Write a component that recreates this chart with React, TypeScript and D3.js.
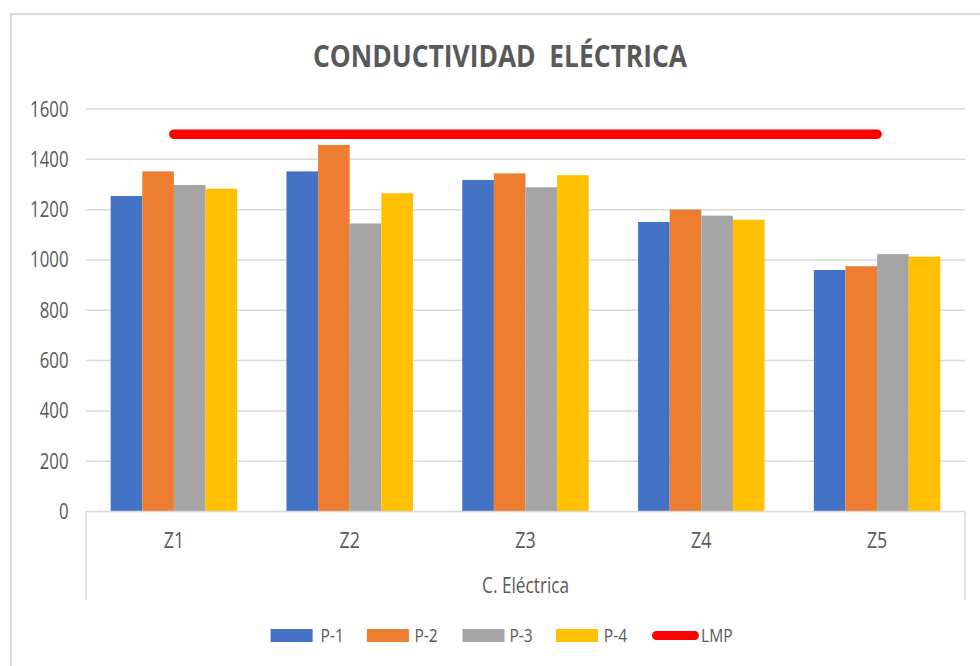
import React from "react";
import * as d3 from "d3";

const categories = ["Z1", "Z2", "Z3", "Z4", "Z5"];
const seriesNames = ["P-1", "P-2", "P-3", "P-4"];
const p1Values = [1254, 1352, 1318, 1151, 960];
const p2Values = [1352, 1457, 1344, 1200, 975];
const p3Values = [1298, 1145, 1289, 1176, 1023];
const p4Values = [1283, 1265, 1337, 1160, 1013];
const lmpValues = [1500, 1500, 1500, 1500, 1500];
const yTicks = [0, 200, 400, 600, 800, 1000, 1200, 1400, 1600];
const seriesColors = ["#4472C4", "#ED7D31", "#A5A5A5", "#FFC000"];
const lmpColor = "#FF0000";
const title = "CONDUCTIVIDAD  ELÉCTRICA";
const axisTitle = "C. Eléctrica";
const lmpName = "LMP";

const seriesValues = [p1Values, p2Values, p3Values, p4Values];

const FONT = "'Open Sans', 'Noto Sans', sans-serif";
const TXT = "#595959";

function T(props: {
  x: number;
  y: number;
  anchor?: string;
  size: number;
  sx?: number;
  weight?: string | number;
  children: React.ReactNode;
  textLength?: number;
}) {
  const { x, y, anchor = "start", size, sx = 0.8, weight = "normal", children, textLength } = props;
  return (
    <g transform={`translate(${x},${y}) scale(${sx},1)`}>
      <text
        x={0}
        y={0}
        textAnchor={anchor}
        fontFamily={FONT}
        fontSize={size}
        fontWeight={weight}
        fill={TXT}
        style={{ whiteSpace: "pre" }}
        textLength={textLength}
        lengthAdjust={textLength ? "spacingAndGlyphs" : undefined}
      >
        {children}
      </text>
    </g>
  );
}

export default function App() {
  const W = 980;
  const H = 666;
  const left = 86;
  const right = 965;
  const y0 = 511.5;
  const yTop = 109;

  const x0 = d3.scaleBand<string>().domain(categories).range([left, right]).padding(0);
  const x1 = d3
    .scaleBand<string>()
    .domain(seriesNames)
    .range([0, x0.bandwidth()])
    .paddingInner(0)
    .paddingOuter(0.78);
  const y = d3.scaleLinear().domain([0, 1600]).range([y0, yTop]);

  const lmpLine = d3
    .line<number>()
    .x((_, i) => (x0(categories[i]) as number) + x0.bandwidth() / 2)
    .y((d) => y(d));

  const legendSwatches = [270.6, 366.9, 462.5, 556];
  const legendTexts = [320.6, 414.4, 509.4, 603.8];

  return (
    <svg
      width={W}
      height={H}
      style={{ position: "absolute", left: 0, top: 0, background: "#fff" }}
    >
      <rect x={0} y={0} width={W} height={H} fill="#fff" />
      <rect x={11} y={14} width={1000} height={700} fill="#fff" stroke="#D9D9D9" strokeWidth={2} />

      {/* title */}
      <T x={500} y={66.5} anchor="middle" size={30} sx={1} weight="bold" textLength={374}>
        {title}
      </T>

      {/* gridlines */}
      {yTicks.map((t) =>
        t === 0 ? null : (
          <line key={t} x1={left} x2={right} y1={y(t)} y2={y(t)} stroke="#D9D9D9" strokeWidth={1.5} />
        )
      )}

      {/* y tick labels */}
      {yTicks.map((t) => (
        <T key={t} x={68.5} y={y(t) + 7.5} anchor="end" size={21} sx={0.8}>
          {String(t)}
        </T>
      ))}

      {/* bars */}
      {categories.map((c, ci) => (
        <g key={c} transform={`translate(${x0(c)},0)`}>
          {seriesNames.map((s, si) => {
            const v = seriesValues[si][ci];
            return (
              <rect
                key={s}
                x={x1(s) as number}
                y={y(v)}
                width={x1.bandwidth()}
                height={y0 - y(v)}
                fill={seriesColors[si]}
              />
            );
          })}
        </g>
      ))}

      {/* axis */}
      <line x1={left} x2={right} y1={y0} y2={y0} stroke="#D9D9D9" strokeWidth={1.5} />
      <line x1={left} x2={left} y1={y0} y2={600} stroke="#D9D9D9" strokeWidth={1.5} />
      <line x1={right} x2={right} y1={y0} y2={600} stroke="#D9D9D9" strokeWidth={1.5} />

      {categories.map((c) => (
        <T key={c} x={(x0(c) as number) + x0.bandwidth() / 2} y={548} anchor="middle" size={21} sx={0.85}>
          {c}
        </T>
      ))}
      <T x={525.6} y={593} anchor="middle" size={21} sx={0.82}>
        {axisTitle}
      </T>

      {/* LMP line */}
      <path
        d={lmpLine(lmpValues) || ""}
        fill="none"
        stroke={lmpColor}
        strokeWidth={9.5}
        strokeLinecap="round"
      />

      {/* legend */}
      {seriesNames.map((s, i) => (
        <g key={s}>
          <rect x={legendSwatches[i]} y={629} width={42} height={13} fill={seriesColors[i]} />
          <T x={legendTexts[i]} y={641.5} size={19} sx={0.82}>
            {s}
          </T>
        </g>
      ))}
      <line x1={656.5} x2={694.5} y1={635.5} y2={635.5} stroke={lmpColor} strokeWidth={9} strokeLinecap="round" />
      <T x={701} y={641.5} size={19} sx={0.82}>
        {lmpName}
      </T>
    </svg>
  );
}
